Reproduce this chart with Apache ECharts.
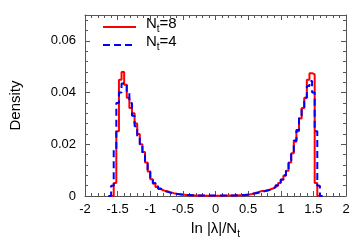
<!DOCTYPE html>
<html><head><meta charset="utf-8">
<script src="https://cdn.jsdelivr.net/npm/echarts@6/dist/echarts.min.js"></script>
<style>html,body{margin:0;padding:0;background:#fff}#c{width:354px;height:248px}</style>
</head><body><div id="c"></div>
<script>
// Bin left edges (last value closes the final bin)
var binEdges = [-1.64,-1.60,-1.56,-1.52,-1.48,-1.44,-1.40,-1.36,-1.32,-1.28,-1.24,-1.20,-1.16,-1.12,-1.08,-1.04,-1.00,-0.96,-0.92,-0.88,-0.84,-0.80,-0.76,-0.72,-0.68,-0.64,-0.60,-0.56,-0.52,-0.48,-0.44,-0.40,-0.36,-0.32,-0.28,-0.24,-0.20,-0.16,-0.12,-0.08,-0.04,0.00,0.04,0.08,0.12,0.16,0.20,0.24,0.28,0.32,0.36,0.40,0.44,0.48,0.52,0.56,0.60,0.64,0.68,0.72,0.76,0.80,0.84,0.88,0.92,0.96,1.00,1.04,1.08,1.12,1.16,1.20,1.24,1.28,1.32,1.36,1.40,1.44,1.48,1.52,1.56,1.60,1.64];
// N_t = 8 density per bin
var densNt8 = [0,0,0.005,0.025,0.045,0.048,0.043,0.038,0.034,0.032,0.028,0.024,0.020,0.017,0.013,0.0095,0.0065,0.0047,0.0035,0.0027,0.0022,0.0019,0.0017,0.0014,0.0011,0.0009,0.0008,0.0006,0.0005,0.0004,0.0003,0.0003,0.0002,0.0002,0.0002,0.0002,0.0001,0.0001,0.0001,0.0001,0.0001,0.0001,0.0001,0.0001,0.0001,0.0002,0.0002,0.0002,0.0002,0.0003,0.0003,0.0003,0.0004,0.0006,0.0008,0.0011,0.0014,0.0017,0.0019,0.0020,0.0022,0.0025,0.0029,0.0034,0.0041,0.0050,0.0063,0.0078,0.0098,0.0130,0.0165,0.021,0.025,0.030,0.034,0.038,0.045,0.0475,0.047,0.005,0,0];
// N_t = 4 density per bin
var densNt4 = [0,0.004,0.018,0.036,0.040,0.0435,0.0435,0.040,0.036,0.031,0.027,0.023,0.0195,0.016,0.0125,0.0095,0.0068,0.0050,0.0038,0.0029,0.0023,0.0018,0.0015,0.0012,0.0010,0.0009,0.0007,0.0006,0.0005,0.0004,0.0004,0.0003,0.0003,0.0002,0.0002,0.0002,0.0002,0.0002,0.0002,0.0002,0.0002,0.0002,0.0002,0.0002,0.0002,0.0002,0.0002,0.0002,0.0003,0.0003,0.0003,0.0004,0.0005,0.0006,0.0008,0.0010,0.0012,0.0014,0.0016,0.0019,0.0021,0.0025,0.0029,0.0034,0.0042,0.0052,0.0064,0.0080,0.0100,0.0128,0.0165,0.0215,0.0255,0.031,0.034,0.038,0.0425,0.0445,0.040,0.025,0.004,0];
var seriesNames = ['N_t=8','N_t=4'];
var xTicks = {min:-2, max:2, interval:0.5};
var yTicks = {min:0, max:0.07, interval:0.02};

function toSteps(vals){
  return binEdges.map(function(x,i){ return [x, i < vals.length ? vals[i] : 0]; });
}
function richLabel(name){
  var m = name.split('_');
  var sub = m[1].charAt(0), rest = m[1].slice(1);
  return '{g|}{a|' + m[0] + '}{b|' + sub + '}{a|' + rest + '}';
}
var FONT = 'Liberation Sans, Arial, sans-serif';
var axisCol = '#555';
var rich = {
  g:{width:5},
  a:{fontSize:15, fontFamily:FONT, color:'#000', padding:[0,0,3,0], lineHeight:14, verticalAlign:'bottom'},
  b:{fontSize:10, fontFamily:FONT, color:'#000', lineHeight:10, verticalAlign:'bottom'}
};
function xAx(pos, main){
  return {type:'value', position:pos, min:xTicks.min, max:xTicks.max, interval:xTicks.interval,
    axisLine:{show:true, onZero:false, lineStyle:{color:axisCol, width:1}},
    axisTick:{show:true, inside:true, length:5, lineStyle:{color:axisCol}},
    minorTick:{show:true, splitNumber:5, length:3, lineStyle:{color:axisCol}},
    splitLine:{show:false},
    axisLabel:{show:main, fontSize:13, fontFamily:FONT, color:'#000', margin:7},
    name: main ? '{a|ln |λ|/N}{b|t}' : '', nameLocation:'middle', nameGap:24,
    nameTextStyle:{rich:rich}
  };
}
function yAx(pos, main){
  return {type:'value', position:pos, min:yTicks.min, max:yTicks.max, interval:yTicks.interval,
    axisLine:{show:true, onZero:false, lineStyle:{color:axisCol, width:1}},
    axisTick:{show:true, inside:true, length:5, lineStyle:{color:axisCol}},
    minorTick:{show:true, splitNumber:5, length:3, lineStyle:{color:axisCol}},
    splitLine:{show:false},
    axisLabel:{show:main, fontSize:13, fontFamily:FONT, color:'#000', margin:9, showMaxLabel:false},
    name: main ? 'Density' : '', nameLocation:'middle', nameGap:62,
    nameTextStyle:{fontSize:15, fontFamily:FONT, color:'#000'}
  };
}
var chart = echarts.init(document.getElementById('c'), null, {renderer:'canvas'});
chart.setOption({
  animation:false,
  grid:{left:84, right:8, top:15, bottom:52},
  legend:{orient:'vertical', left:97, top:11, itemWidth:33, itemHeight:12, itemGap:0,
    itemStyle:{opacity:0},
    data:seriesNames, formatter:richLabel, textStyle:{rich:rich}},
  xAxis:[xAx('bottom', true), xAx('top', false)],
  yAxis:[yAx('left', true), yAx('right', false)],
  series:[
    {name:seriesNames[0], type:'line', step:'end', data:toSteps(densNt8), showSymbol:false, symbol:'none',
      lineStyle:{color:'#ff0000', width:2}, itemStyle:{color:'#ff0000'}, xAxisIndex:0, yAxisIndex:0},
    {name:seriesNames[1], type:'line', step:'end', data:toSteps(densNt4), showSymbol:false, symbol:'none',
      lineStyle:{color:'#0000ff', width:2, type:[7,4]}, itemStyle:{color:'#0000ff'}, xAxisIndex:0, yAxisIndex:0}
  ]
});
</script></body></html>
